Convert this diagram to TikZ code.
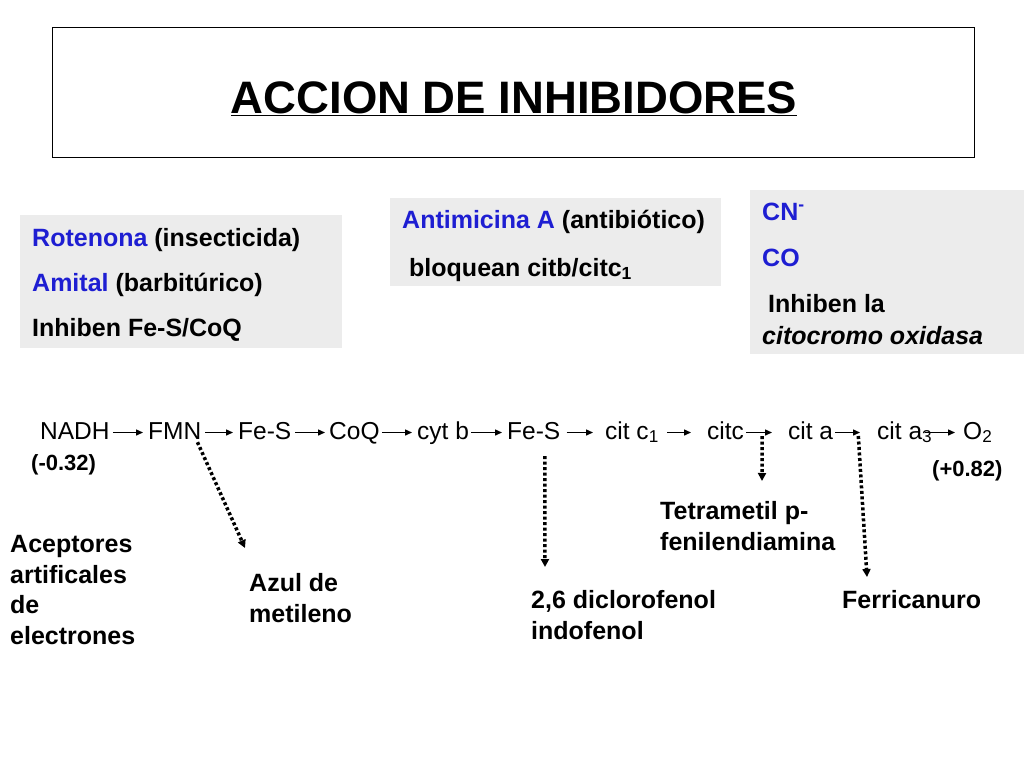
\documentclass[tikz,border=0pt]{standalone}
\usepackage{fontspec}
\setmainfont{Liberation Sans}
\usetikzlibrary{arrows.meta}
\definecolor{hblue}{RGB}{30,30,210}
\definecolor{boxgray}{RGB}{236,236,236}
\begin{document}
\begin{tikzpicture}[x=1pt,y=-1pt,
  chainlbl/.style={anchor=base west,inner sep=0pt,font=\fontsize{24.5}{29}\selectfont,text height=18pt,text depth=5pt},
  boxtxt/.style={anchor=base west,inner sep=0pt,font=\bfseries\fontsize{25}{30}\selectfont},
  lbl/.style={anchor=base west,inner sep=0pt,align=left,font=\bfseries\fontsize{25}{30.5}\selectfont},
  pot/.style={anchor=base west,inner sep=0pt,font=\bfseries\fontsize{22}{26}\selectfont},
  arr/.style={-{Triangle[length=7pt,width=6pt]},line width=1.4pt},
  dotarr/.style={-{Triangle[length=8pt,width=8pt]},line width=3.5pt,dash pattern=on 3pt off 2.5pt},
  gbox/.style={fill=boxgray,draw=none}]
\useasboundingbox (0,0) rectangle (1024,768);
\fill[white] (0,0) rectangle (1024,768);

% title
\draw[line width=1pt] (52,28) rectangle (974,157);
\node[anchor=base,inner sep=0pt,font=\bfseries\fontsize{45.5}{52}\selectfont] (title) at (514,113) {\underline{ACCION DE INHIBIDORES}};

% gray boxes
\fill[gbox] (20,215) rectangle (342,348);
\fill[gbox] (390,198) rectangle (721,286);
\fill[gbox] (750,190) rectangle (1024,354);

\node[boxtxt] (rot) at (32,246) {\textcolor{hblue}{Rotenona} (insecticida)};
\node[boxtxt] (ami) at (32,291) {\textcolor{hblue}{Amital} (barbitúrico)};
\node[boxtxt] (inh1) at (32,336) {Inhiben Fe-S/CoQ};
\node[boxtxt] (anti) at (402,228) {\textcolor{hblue}{Antimicina A} (antibiótico)};
\node[boxtxt] (bloq) at (409,276) {bloquean citb/citc\textsubscript{1}};
\node[boxtxt] (cn) at (762,220) {\textcolor{hblue}{CN\textsuperscript{-}}};
\node[boxtxt] (co) at (762,266) {\textcolor{hblue}{CO}};
\node[boxtxt] (inh2) at (768,312) {Inhiben la};
\node[boxtxt] (cito) at (762,344) {\itshape citocromo oxidasa};

% chain
\node[chainlbl] (nadh) at (40,439) {NADH};
\node[chainlbl] (fmn) at (148,439) {FMN};
\node[chainlbl] (fes1) at (238,439) {Fe-S};
\node[chainlbl] (coq) at (329,439) {CoQ};
\node[chainlbl] (cytb) at (417,439) {cyt b};
\node[chainlbl] (fes2) at (507,439) {Fe-S};
\node[chainlbl] (citc1) at (605,439) {cit c\textsubscript{1}};
\node[chainlbl] (citc) at (707,439) {citc};
\node[chainlbl] (cita) at (788,439) {cit a};
\node[chainlbl] (cita3) at (877,439) {cit a\textsubscript{3}};
\node[chainlbl] (o2) at (963,439) {O\textsubscript{2}};

\draw[arr] ([xshift=3pt]nadh.east) -- ([xshift=-5pt]fmn.west);
\draw[arr] ([xshift=4pt]fmn.east) -- ([xshift=-5pt]fes1.west);
\draw[arr] ([xshift=4pt]fes1.east) -- ([xshift=-4pt]coq.west);
\draw[arr] ([xshift=2pt]coq.east) -- ([xshift=-5pt]cytb.west);
\draw[arr] ([xshift=2pt]cytb.east) -- ([xshift=-5pt]fes2.west);
\draw[arr] ([xshift=6pt]fes2.east) -- ([xshift=-12pt]citc1.west);
\draw[arr] ([xshift=8pt]citc1.east) -- ([xshift=-16pt]citc.west);
\draw[arr] ([xshift=2pt]citc.east) -- ([xshift=-16pt]cita.west);
\draw[arr] ([xshift=2pt]cita.east) -- ([xshift=-17pt]cita3.west);
\draw[arr] ([xshift=-7pt]cita3.east) -- ([xshift=-8pt]o2.west);

\node[pot] (pn) at (31,470) {(-0.32)};
\node[pot] (pp) at (932,476) {(+0.82)};

% acceptors (base anchor = baseline of last line)
\node[lbl] (acep) at (10,644) {Aceptores\\artificales\\de\\electrones};
\node[lbl] (azul) at (249,622) {Azul de\\metileno};
\node[lbl] (dcp) at (531,639) {2,6 diclorofenol\\indofenol};
\node[lbl] (tmpd) at (660,550) {Tetrametil p-\\fenilendiamina};
\node[lbl] (ferri) at (842,608) {Ferricanuro};

\coordinate (tAzul) at (245,548);
\coordinate (tDcp) at (545,567);
\coordinate (tTmpd) at (762,481);
\coordinate (tFerri) at (867,577);

\draw[dotarr] ([xshift=-4pt,yshift=2pt]fmn.south east) -- (tAzul);
\draw[dotarr] ([xshift=11pt,yshift=-12pt]fes2.south) -- (tDcp);
\draw[dotarr] ([xshift=18pt,yshift=-3.5pt]citc.east) -- (tTmpd);
\draw[dotarr] ([xshift=25pt,yshift=-3.5pt]cita.east) -- (tFerri);
\end{tikzpicture}
\end{document}
